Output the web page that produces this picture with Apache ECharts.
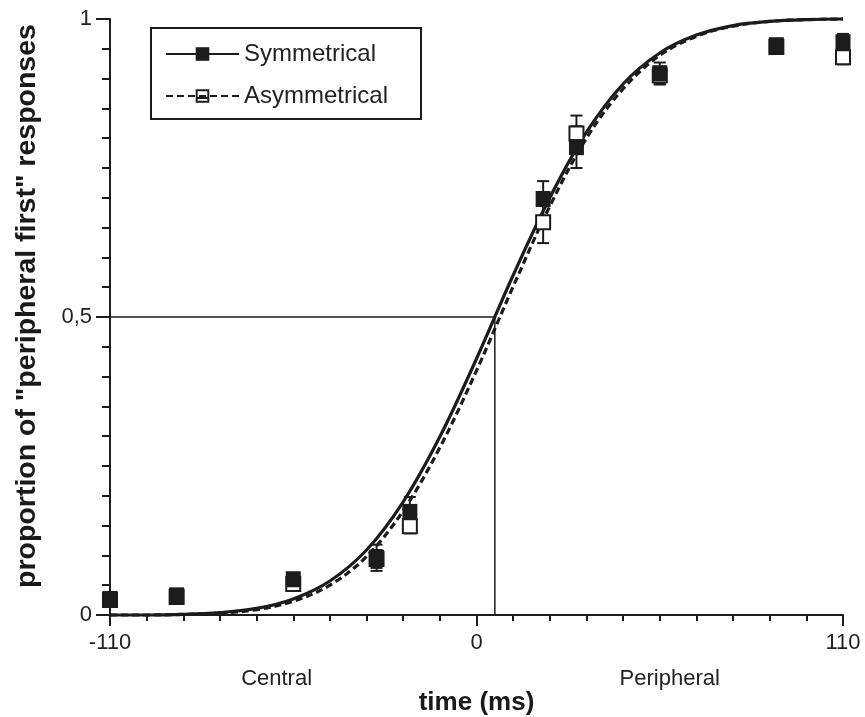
<!DOCTYPE html>
<html>
<head>
<meta charset="utf-8">
<script src="https://cdn.jsdelivr.net/npm/echarts@6/dist/echarts.min.js"></script>
<style>
  html, body { margin: 0; padding: 0; background: #fff; }
  #chart { width: 865px; height: 717px; }
</style>
</head>
<body>
<div id="chart"></div>
<script>
// Stimulus onset asynchronies (ms) and observed proportions
const soa = [-110, -90, -55, -30, -20, 20, 30, 55, 90, 110];
const symProp = [0.027, 0.033, 0.060, 0.096, 0.173, 0.698, 0.785, 0.909, 0.956, 0.961];
const symErr  = [0.008, 0.008, 0.010, 0.022, 0.025, 0.030, 0.035, 0.018, 0.010, 0.014];
const asymProp = [0.025, 0.030, 0.052, 0.094, 0.149, 0.659, 0.808, 0.905, 0.953, 0.936];
const asymErr  = [0.008, 0.008, 0.010, 0.015, 0.012, 0.035, 0.030, 0.015, 0.010, 0.012];

// Fitted psychometric curves, sampled along the time axis
const curveX = [-110, -99, -88, -77, -66, -55, -44, -33, -22, -11, 0, 11, 22, 33, 44, 55, 66, 77, 88, 99, 110];
const symCurve  = [0.000, 0.000, 0.001, 0.004, 0.011, 0.027, 0.057, 0.109, 0.190, 0.299, 0.430, 0.570, 0.700, 0.810, 0.891, 0.943, 0.973, 0.989, 0.996, 0.999, 1.000];
const asymCurve = [0.000, 0.000, 0.001, 0.003, 0.009, 0.023, 0.050, 0.098, 0.175, 0.281, 0.410, 0.551, 0.686, 0.800, 0.883, 0.939, 0.971, 0.988, 0.996, 0.999, 1.000];

// Point of subjective equality (ms) and axis labelling
const pse = 5.5;
const xTickLabels = { '-110': '-110', '0': '0', '110': '110' };
const yTickLabels = { '0': '0', '0.5': '0,5', '1': '1' };
const sideLabels = [{ text: 'Central', x: -60 }, { text: 'Peripheral', x: 58 }];

const INK = '#1c1c1c';
const hollowSquare = 'path://M0,0L14,0L14,14L0,14Z M2,2L2,12L12,12L12,2Z M2,8L12,8L12,10L2,10Z';

const zip = (xs, ys) => xs.map((x, i) => [x, ys[i]]);
const errData = (vals, errs) => soa.map((x, i) => [x, vals[i] - errs[i], vals[i] + errs[i]]);

function renderErr(params, api) {
  const x = api.value(0);
  const lo = api.coord([x, api.value(1)]);
  const hi = api.coord([x, api.value(2)]);
  const hw = 6;
  const style = { stroke: INK, lineWidth: 2, fill: null };
  return {
    type: 'group',
    children: [
      { type: 'line', shape: { x1: lo[0], y1: lo[1], x2: hi[0], y2: hi[1] }, style },
      { type: 'line', shape: { x1: lo[0] - hw, y1: lo[1], x2: lo[0] + hw, y2: lo[1] }, style },
      { type: 'line', shape: { x1: hi[0] - hw, y1: hi[1], x2: hi[0] + hw, y2: hi[1] }, style }
    ]
  };
}

const chart = echarts.init(document.getElementById('chart'), null, { renderer: 'canvas' });

chart.setOption({
  backgroundColor: '#fff',
  animation: false,
  grid: { left: 110, right: 22, top: 19, bottom: 102, containLabel: false, outerBoundsMode: 'none' },
  legend: {
    data: ['Symmetrical', 'Asymmetrical'],
    orient: 'vertical',
    left: 151, top: 28,
    padding: [14, 33, 11, 14],
    itemWidth: 73, itemHeight: 17, itemGap: 18,
    borderColor: INK, borderWidth: 2,
    textStyle: { fontFamily: 'Liberation Sans, Arial, sans-serif', fontSize: 24, color: '#222' },
    selectedMode: false
  },
  xAxis: {
    type: 'value', min: -110, max: 110, interval: 110,
    name: 'time (ms)', nameLocation: 'middle', nameGap: 75,
    nameTextStyle: { fontFamily: 'Liberation Sans, Arial, sans-serif', fontSize: 26, fontWeight: 'bold', color: '#1a1a1a' },
    axisLine: { show: true, onZero: false, lineStyle: { color: INK, width: 2 } },
    axisTick: { show: true, length: 11, lineStyle: { color: INK, width: 2 } },
    minorTick: { show: true, splitNumber: 10, length: 6, lineStyle: { color: INK, width: 2 } },
    axisLabel: {
      margin: 17, fontFamily: 'Liberation Sans, Arial, sans-serif', fontSize: 22, color: '#222',
      formatter: v => xTickLabels[String(v)] || ''
    },
    splitLine: { show: false }, minorSplitLine: { show: false }
  },
  yAxis: {
    type: 'value', min: 0, max: 1, interval: 0.5,
    name: 'proportion of "peripheral first" responses', nameLocation: 'middle', nameGap: 68,
    nameTextStyle: {
      fontFamily: 'Liberation Sans, Arial, sans-serif', fontSize: 28.5, fontWeight: 'bold', color: '#1a1a1a',
      padding: [0, 0, 0, 22]
    },
    axisLine: { show: true, onZero: false, lineStyle: { color: INK, width: 2 } },
    axisTick: { show: true, length: 14, lineStyle: { color: INK, width: 2 } },
    minorTick: { show: true, splitNumber: 10, length: 8, lineStyle: { color: INK, width: 2 } },
    axisLabel: {
      margin: 18, fontFamily: 'Liberation Sans, Arial, sans-serif', fontSize: 22, color: '#222',
      formatter: v => yTickLabels[String(v)] || ''
    },
    splitLine: { show: false }, minorSplitLine: { show: false }
  },
  series: [
    {
      name: 'pse', type: 'line', silent: true, symbol: 'none', clip: false, z: 1,
      lineStyle: { color: INK, width: 1.5 },
      data: [[-110, 0.5], [pse, 0.5], [pse, 0]]
    },
    {
      name: 'Asymmetrical', type: 'line', smooth: 0.35,
      symbol: hollowSquare, showSymbol: false, clip: false, z: 2,
      itemStyle: { color: INK },
      lineStyle: { color: INK, width: 3.2, type: [7, 4] },
      data: zip(curveX, asymCurve)
    },
    {
      name: 'Symmetrical', type: 'line', smooth: 0.35,
      symbol: 'rect', showSymbol: false, clip: false, z: 3,
      itemStyle: { color: INK },
      lineStyle: { color: INK, width: 3.2 },
      data: zip(curveX, symCurve)
    },
    {
      name: 'asymErr', type: 'custom', renderItem: renderErr, clip: false, z: 4,
      data: errData(asymProp, asymErr)
    },
    {
      name: 'symErr', type: 'custom', renderItem: renderErr, clip: false, z: 4,
      data: errData(symProp, symErr)
    },
    {
      name: 'asymPoints', type: 'scatter', symbol: 'rect', symbolSize: 14, clip: false, z: 5,
      itemStyle: { color: '#fff', borderColor: INK, borderWidth: 2, opacity: 1 },
      data: zip(soa, asymProp)
    },
    {
      name: 'symPoints', type: 'scatter', symbol: 'rect', symbolSize: [15, 16], clip: false, z: 6,
      itemStyle: { color: INK, opacity: 1 },
      data: zip(soa, symProp)
    }
  ]
});

// Side captions under the time axis
const baseY = chart.convertToPixel({ yAxisIndex: 0 }, 0);
chart.setOption({
  graphic: sideLabels.map(s => ({
    type: 'text',
    x: chart.convertToPixel({ xAxisIndex: 0 }, s.x),
    y: baseY + 64,
    style: {
      text: s.text, fill: '#222', align: 'center', verticalAlign: 'middle',
      font: '22px "Liberation Sans", Arial, sans-serif'
    }
  }))
});
</script>
</body>
</html>
